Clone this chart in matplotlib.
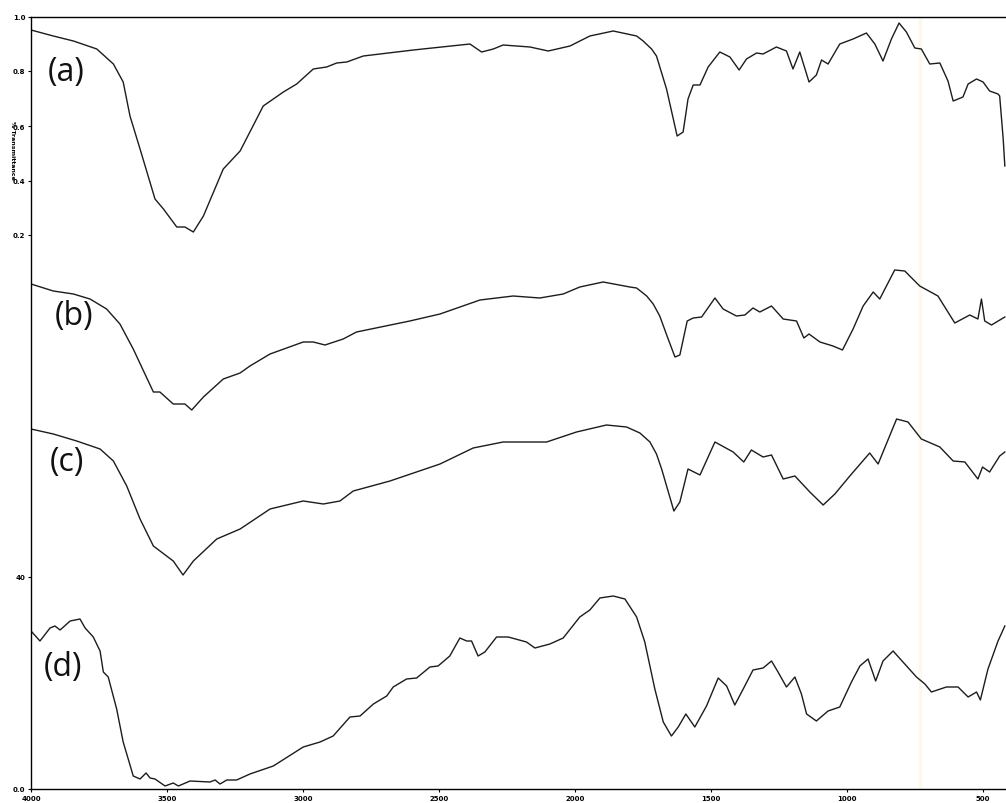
import matplotlib
matplotlib.use("Agg")
import matplotlib.pyplot as plt

# ─── DATA (stacked on one axis) ──────────────────────────────────────────────
wn_a = [4000, 3918, 3844, 3758, 3697, 3661, 3636, 3599, 3544, 3513, 3464, 3434,
        3403, 3366, 3293, 3231, 3146, 3072, 3023, 2962, 2913, 2876, 2839, 2778,
        2594, 2386, 2343, 2300, 2264, 2165, 2098, 2018, 1945, 1859, 1773, 1749,
        1718, 1700, 1663, 1624, 1602, 1584, 1565, 1540, 1510, 1467, 1430, 1396,
        1369, 1332, 1308, 1259, 1222, 1198, 1173, 1139, 1112, 1093, 1069, 1026,
        977, 928, 897, 867, 836, 808, 781, 750, 726, 695, 658, 628, 609, 573,
        554, 523, 499, 475, 444, 438, 425, 419]
t_a = [75.9, 75.3, 74.8, 74.0, 72.5, 70.7, 67.3, 64.0, 59.0, 58.0, 56.2, 56.2,
       55.7, 57.3, 62.0, 63.8, 68.3, 69.7, 70.5, 72.0, 72.2, 72.6, 72.7, 73.3,
       73.9, 74.5, 73.7, 74.0, 74.4, 74.2, 73.8, 74.3, 75.3, 75.8, 75.3, 74.8,
       74.0, 73.3, 70.0, 65.3, 65.7, 69.0, 70.4, 70.4, 72.2, 73.7, 73.2, 71.9,
       73.0, 73.6, 73.5, 74.2, 73.8, 72.0, 73.7, 70.7, 71.4, 72.9, 72.5, 74.5,
       75.0, 75.6, 74.5, 72.8, 75.0, 76.6, 75.7, 74.1, 74.0, 72.5, 72.6, 70.8,
       68.8, 69.2, 70.5, 71.0, 70.7, 69.8, 69.5, 69.3, 65.0, 62.3]

wn_b = [4000, 3918, 3844, 3783, 3722, 3673, 3624, 3550, 3526, 3477, 3434, 3409,
        3366, 3293, 3231, 3195, 3121, 2999, 2962, 2919, 2852, 2803, 2607, 2496,
        2349, 2227, 2129, 2043, 1982, 1896, 1798, 1773, 1736, 1712, 1688, 1657,
        1632, 1614, 1587, 1565, 1534, 1485, 1455, 1406, 1375, 1345, 1320, 1277,
        1234, 1185, 1158, 1139, 1099, 1051, 1016, 977, 940, 903, 879, 824, 787,
        732, 665, 603, 548, 518, 505, 493, 468, 419]
t_b = [50.5, 49.8, 49.5, 49.0, 48.0, 46.5, 44.0, 39.7, 39.7, 38.5, 38.5, 37.9,
       39.2, 41.0, 41.6, 42.3, 43.5, 44.7, 44.7, 44.4, 45.0, 45.7, 46.8, 47.5,
       48.9, 49.3, 49.1, 49.5, 50.2, 50.7, 50.2, 50.1, 49.3, 48.5, 47.3, 45.0,
       43.2, 43.4, 46.8, 47.1, 47.2, 49.1, 48.0, 47.3, 47.4, 48.1, 47.7, 48.3,
       47.0, 46.8, 45.1, 45.5, 44.7, 44.3, 43.9, 46.0, 48.3, 49.7, 49.0, 51.9,
       51.8, 50.3, 49.3, 46.6, 47.4, 47.0, 49.0, 46.8, 46.4, 47.2]

wn_c = [4000, 3918, 3832, 3746, 3697, 3648, 3599, 3550, 3477, 3441, 3403, 3317,
        3231, 3121, 2999, 2925, 2864, 2815, 2680, 2496, 2374, 2264, 2104, 1994,
        1884, 1810, 1761, 1724, 1700, 1681, 1636, 1614, 1584, 1540, 1485, 1418,
        1379, 1351, 1308, 1277, 1234, 1191, 1136, 1087, 1044, 989, 916, 885, 817,
        775, 726, 658, 609, 566, 518, 501, 475, 438, 419]
t_c = [36.0, 35.5, 34.8, 34.0, 32.8, 30.3, 27.0, 24.3, 22.8, 21.4, 22.8, 25.0,
       26.0, 28.0, 28.8, 28.5, 28.8, 29.8, 30.8, 32.5, 34.1, 34.7, 34.7, 35.7,
       36.4, 36.2, 35.6, 34.7, 33.5, 32.0, 27.8, 28.7, 32.0, 31.4, 34.7, 33.7,
       32.7, 33.9, 33.2, 33.4, 31.0, 31.3, 29.7, 28.4, 29.5, 31.3, 33.6, 32.5,
       37.0, 36.7, 35.0, 34.2, 32.8, 32.7, 31.0, 32.2, 31.7, 33.3, 33.7]

wn_d = [4000, 3967, 3930, 3912, 3893, 3856, 3820, 3801, 3771, 3746, 3734, 3716,
        3685, 3661, 3624, 3599, 3577, 3562, 3544, 3507, 3477, 3458, 3415, 3342,
        3323, 3305, 3280, 3244, 3195, 3109, 2999, 2937, 2889, 2827, 2790, 2741,
        2692, 2668, 2619, 2582, 2533, 2503, 2460, 2423, 2398, 2380, 2356, 2331,
        2288, 2245, 2178, 2147, 2092, 2043, 1982, 1945, 1908, 1859, 1816, 1773,
        1743, 1706, 1675, 1645, 1620, 1592, 1559, 1516, 1473, 1442, 1412, 1381,
        1345, 1308, 1277, 1253, 1222, 1191, 1167, 1148, 1112, 1069, 1026, 983,
        952, 922, 894, 867, 830, 787, 744, 713, 689, 634, 591, 554, 523, 509,
        481, 444, 419]
t_d = [15.8, 14.8, 16.1, 16.3, 15.9, 16.8, 17.0, 16.1, 15.2, 13.8, 11.7, 11.2,
       8.0, 4.7, 1.3, 1.0, 1.6, 1.1, 1.0, 0.3, 0.6, 0.3, 0.8, 0.7,
       0.9, 0.5, 0.9, 0.9, 1.5, 2.3, 4.2, 4.7, 5.3, 7.2, 7.3, 8.5,
       9.3, 10.2, 11.0, 11.1, 12.2, 12.3, 13.3, 15.1, 14.8, 14.8, 13.3, 13.7,
       15.2, 15.2, 14.7, 14.1, 14.5, 15.1, 17.2, 17.9, 19.1, 19.3, 19.0, 17.2,
       14.7, 10.0, 6.7, 5.3, 6.2, 7.5, 6.2, 8.3, 11.1, 10.3, 8.4, 10.0,
       11.9, 12.1, 12.8, 11.7, 10.2, 11.2, 9.5, 7.5, 6.8, 7.8, 8.2, 10.7,
       12.3, 13.0, 10.8, 12.8, 13.8, 12.5, 11.2, 10.5, 9.7, 10.2, 10.2, 9.2,
       9.7, 8.9, 12.0, 14.8, 16.3]

labels = ["(a)", "(b)", "(c)", "(d)"]
label_x = [3940, 3914, 3932, 3952]
label_y = [71.7, 47.4, 32.8, 12.2]

xtick_vals = [4000, 3500, 3000, 2500, 2000, 1500, 1000, 500]
ytick_vals = [77.2, 71.8, 66.3, 60.8, 55.4, 21.2, 0.0]
ytick_text = ["1.0", "0.8", "0.6", "0.4", "0.2", "40", "0.0"]
# ──────────────────────────────────────────────────────────────────────────────

fig = plt.figure(figsize=(10.06, 8.04), dpi=100)
ax = fig.add_axes([31 / 1006, 14 / 804, 979 / 1006, 772 / 804])

line_kw = dict(color="#1c1c1c", lw=1.0)
for wn, t in [(wn_a, t_a), (wn_b, t_b), (wn_c, t_c), (wn_d, t_d)]:
    ax.plot(wn, t, **line_kw)

for lab, lx, ly in zip(labels, label_x, label_y):
    ax.text(lx, ly, lab, fontsize=23, family="Open Sans",
            ha="left", va="center", color="#111111")

# faint scanner streak
ax.axvline(732, color="#fbf9ec", lw=2.5, zorder=0)

ax.set_xlim(4000, 400)
ax.set_ylim(0, 77.2)

ax.set_xticks(xtick_vals)
ax.set_xticklabels([str(v) for v in xtick_vals], fontsize=5, fontweight="bold")
ax.set_yticks(ytick_vals)
ax.set_yticklabels(ytick_text, fontsize=5, fontweight="bold")
ax.tick_params(axis="both", length=2.5, width=0.8, pad=1.5)

ax.spines["right"].set_visible(False)
for side in ["top", "left", "bottom"]:
    ax.spines[side].set_linewidth(1.0)

fig.text(12 / 1006, 1 - 150 / 804, "% Transmittance", rotation=270,
         fontsize=4.5, fontweight="bold", ha="center", va="center")

fig.savefig("out.png", dpi=100)
